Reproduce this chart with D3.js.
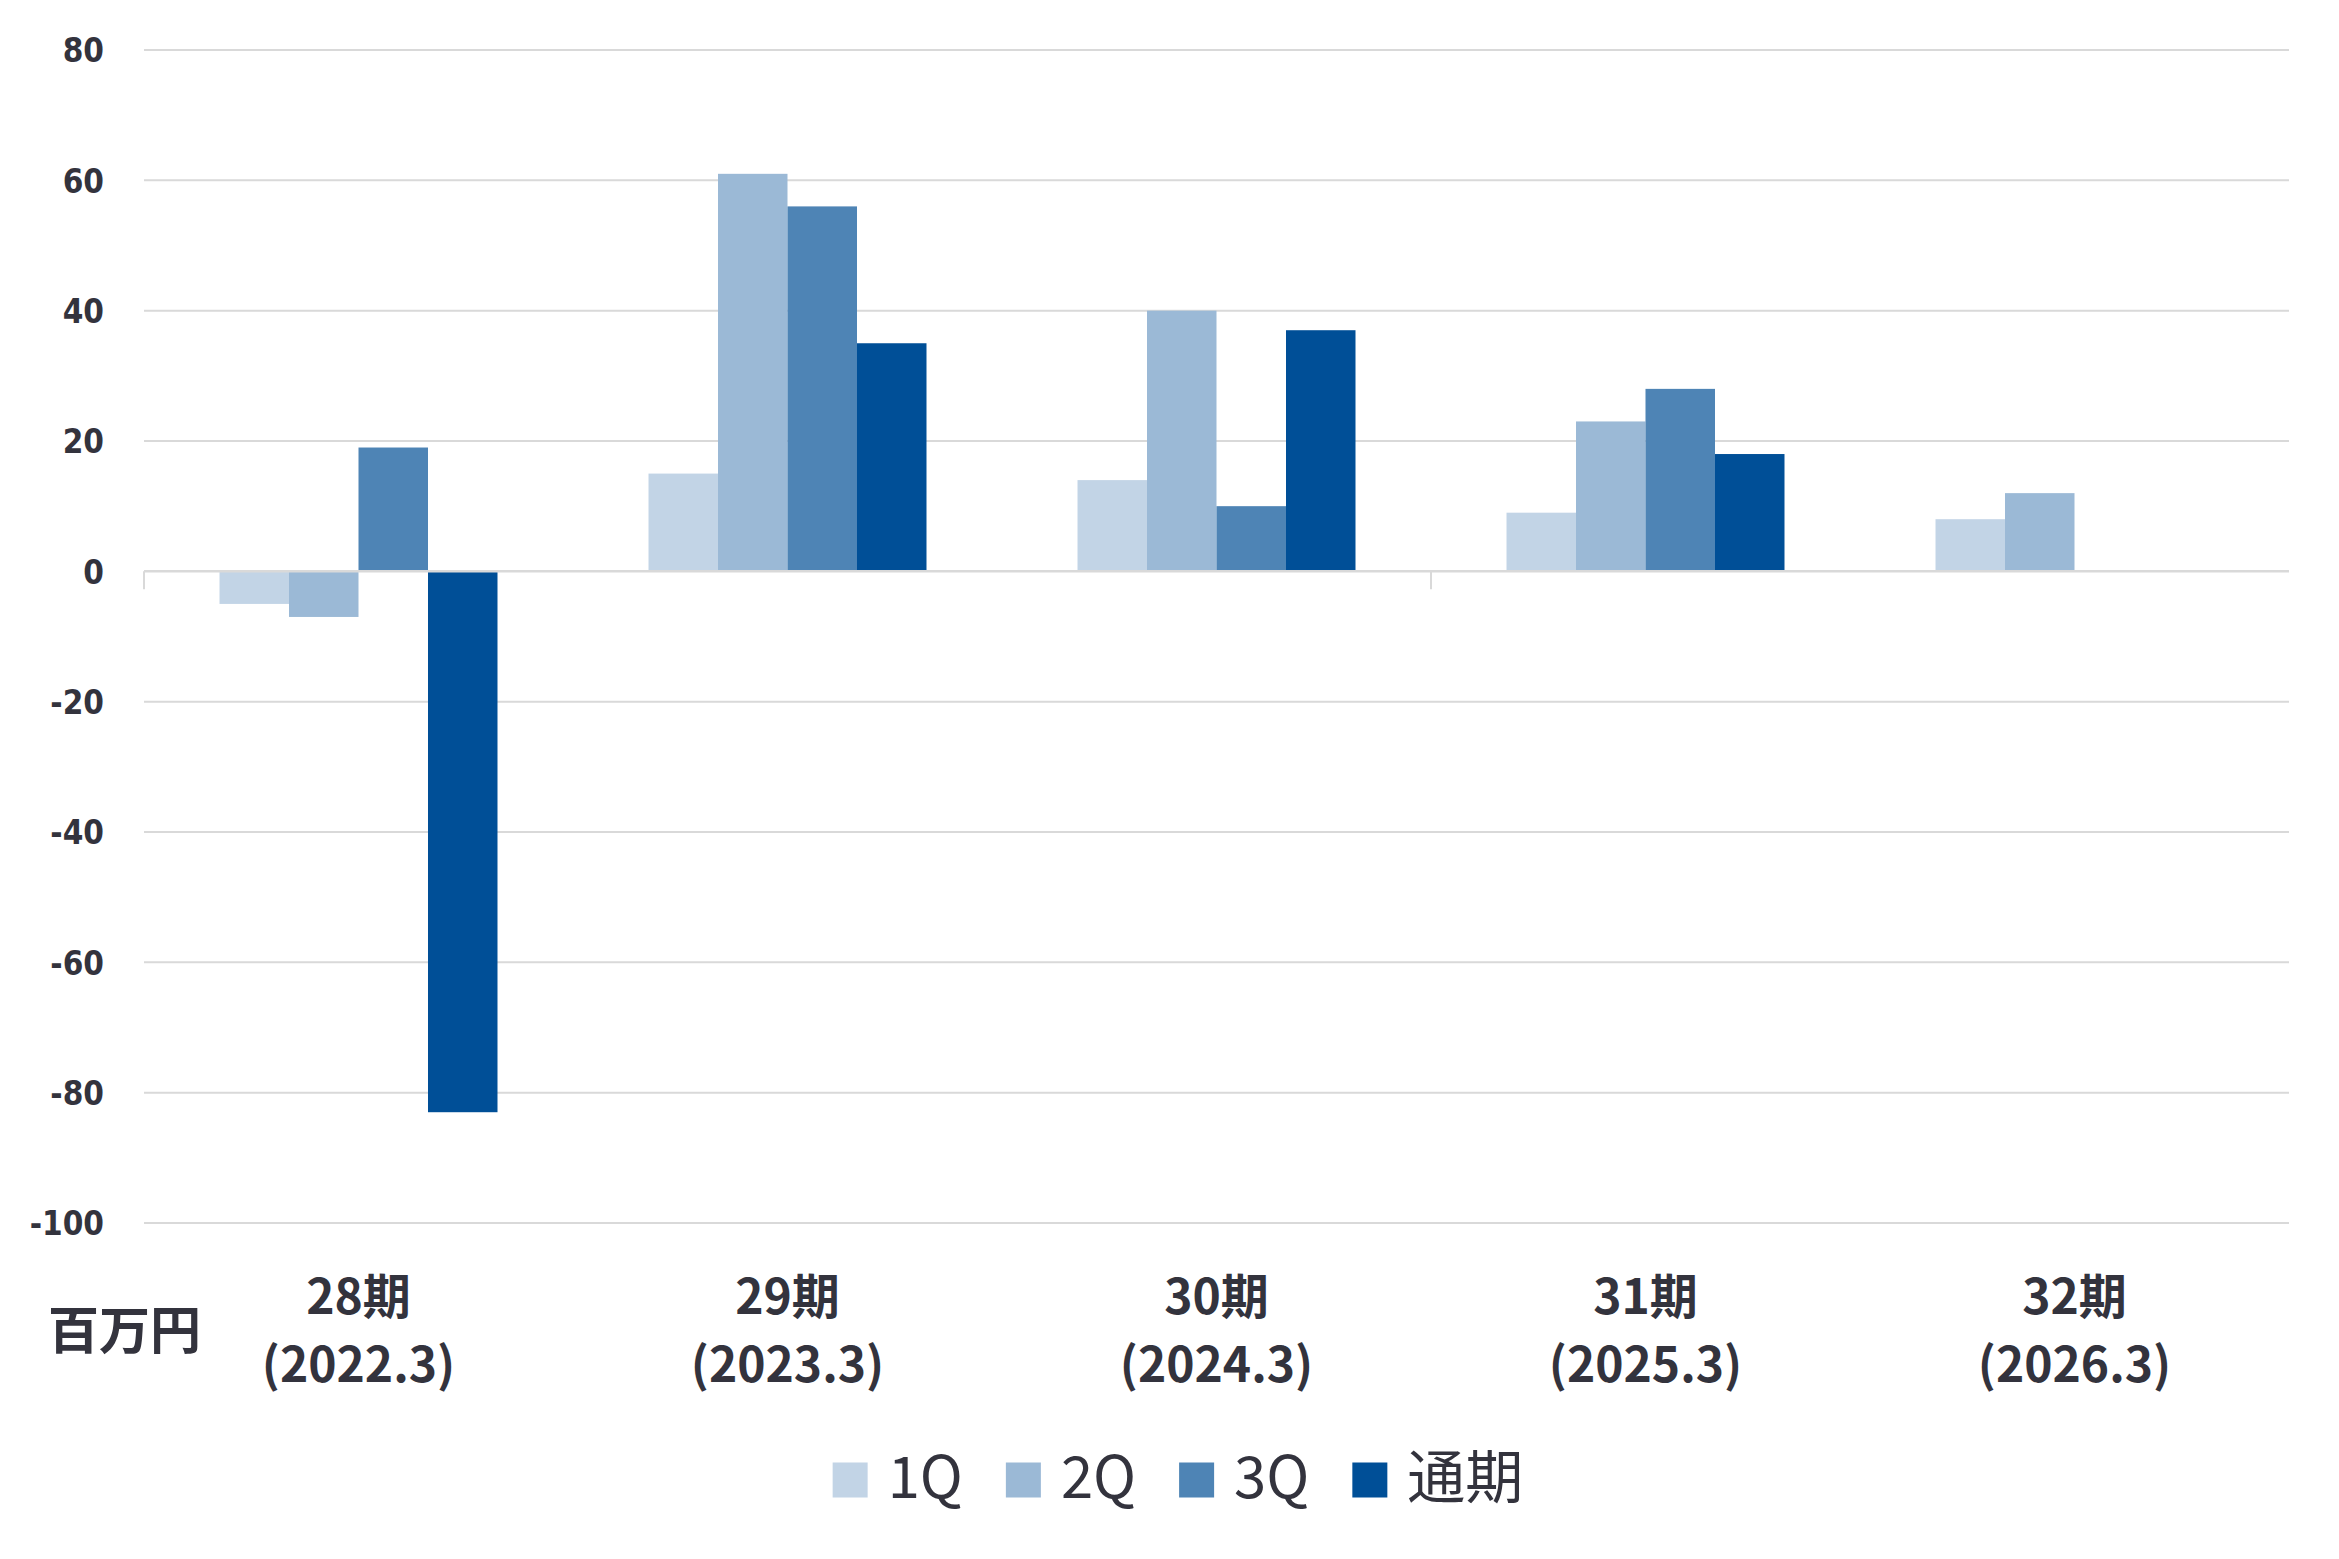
<!DOCTYPE html>
<html>
<head>
<meta charset="utf-8">
<script src="https://cdn.jsdelivr.net/npm/d3@7"></script>
<style>
  html, body { margin: 0; padding: 0; background: #ffffff; }
  svg { display: block; }
</style>
</head>
<body>
<svg id="chart" width="2339" height="1559"></svg>
<script>
// ---- data ----
const categories = ["28期", "29期", "30期", "31期", "32期"];
const categoryDates = ["(2022.3)", "(2023.3)", "(2024.3)", "(2025.3)", "(2026.3)"];
const seriesNames = ["1Q", "2Q", "3Q", "通期"];
const q1 = [-5, 15, 14, 9, 8];
const q2 = [-7, 61, 40, 23, 12];
const q3 = [19, 56, 10, 28, null];
const full = [-83, 35, 37, 18, null];
const yTicks = [80, 60, 40, 20, 0, -20, -40, -60, -80, -100];
const unitLabel = "百万円";

// ---- style ----
const colors = ["#C2D4E6", "#9BB9D6", "#4E84B5", "#004F97"];
const textColor = "#33333d";
const gridColor = "#D9D9D9";

const seriesValues = [q1, q2, q3, full];
const svg = d3.select("#chart");

const plotLeft = 144, plotRight = 2289, plotTop = 50, plotBottom = 1223;

const y = d3.scaleLinear().domain([-100, 80]).range([plotBottom, plotTop]);
const x0 = d3.scaleBand().domain(categories).range([plotLeft, plotRight]).padding(0);
const bw = x0.bandwidth();
const groupW = bw * 0.648;
const x1 = d3.scaleBand().domain(seriesNames).range([(bw - groupW) / 2, (bw + groupW) / 2]).padding(0);

// gridlines
svg.append("g").selectAll("line").data(yTicks.filter(t => t !== 0)).join("line")
  .attr("x1", plotLeft).attr("x2", plotRight)
  .attr("y1", d => y(d)).attr("y2", d => y(d))
  .attr("stroke", gridColor).attr("stroke-width", 2);

// y tick labels
const yAxis = d3.axisLeft(y).tickValues(yTicks).tickSize(0).tickPadding(0).tickFormat(d => String(d));
const gy = svg.append("g").attr("transform", `translate(104,0)`).call(yAxis);
gy.select(".domain").remove();
gy.selectAll("text")
  .attr("fill", textColor)
  .style("font-family", "'DejaVu Sans Condensed', 'DejaVu Sans', sans-serif")
  .style("font-stretch", "condensed")
  .style("font-weight", "bold")
  .style("font-size", "33px")
  .attr("dy", "0.36em");

// bars
const barData = [];
categories.forEach((c, i) => {
  seriesNames.forEach((s, j) => {
    const v = seriesValues[j][i];
    if (v !== null && v !== undefined) barData.push({ c, s, v, j });
  });
});
svg.append("g").selectAll("rect").data(barData).join("rect")
  .attr("x", d => x0(d.c) + x1(d.s))
  .attr("width", x1.bandwidth())
  .attr("y", d => y(Math.max(0, d.v)))
  .attr("height", d => Math.abs(y(d.v) - y(0)))
  .attr("fill", d => colors[d.j]);

// zero axis line
svg.append("line")
  .attr("x1", plotLeft).attr("x2", plotRight)
  .attr("y1", y(0)).attr("y2", y(0))
  .attr("stroke", gridColor).attr("stroke-width", 2.5);

// category tick marks (every 3 categories)
const tickCats = [0, 3];
svg.append("g").selectAll("line").data(tickCats).join("line")
  .attr("x1", d => plotLeft + d * bw).attr("x2", d => plotLeft + d * bw)
  .attr("y1", y(0)).attr("y2", y(0) + 18)
  .attr("stroke", gridColor).attr("stroke-width", 2);

// category labels
const catG = svg.append("g");
categories.forEach((c, i) => {
  const cx = x0(c) + bw / 2;
  const t = catG.append("text")
    .attr("text-anchor", "middle")
    .attr("fill", textColor)
    .style("font-family", "'Noto Sans CJK JP', sans-serif")
    .style("font-weight", "bold")
    .style("font-size", "48px");
  t.append("tspan").attr("x", cx).attr("y", 1314).text(c);
  t.append("tspan").attr("x", cx).attr("y", 1382).text(categoryDates[i]);
});

// unit label
svg.append("text")
  .attr("x", 48).attr("y", 1349)
  .attr("fill", textColor)
  .style("font-family", "'Noto Sans CJK JP', sans-serif")
  .style("font-weight", "bold")
  .style("font-size", "51px")
  .text(unitLabel);

// legend
const legend = svg.append("g");
const sq = 35, sqGap = 20, itemGap = 43, legendY = 1480;
let items = seriesNames.map((s, j) => {
  const g = legend.append("g");
  g.append("rect").attr("width", sq).attr("height", sq).attr("y", legendY - sq / 2).attr("fill", colors[j]);
  const t = g.append("text")
    .attr("x", sq + sqGap).attr("y", 1498)
    .attr("fill", textColor)
    .style("font-family", "'Noto Sans CJK JP', sans-serif")
    .style("font-size", "58px")
    .text(s);
  return { g, w: sq + sqGap + t.node().getComputedTextLength() };
});
const totalW = items.reduce((a, b) => a + b.w, 0) + itemGap * (items.length - 1);
let lx = 1178 - totalW / 2;
items.forEach(it => {
  it.g.attr("transform", `translate(${lx},0)`);
  lx += it.w + itemGap;
});
</script>
</body>
</html>
